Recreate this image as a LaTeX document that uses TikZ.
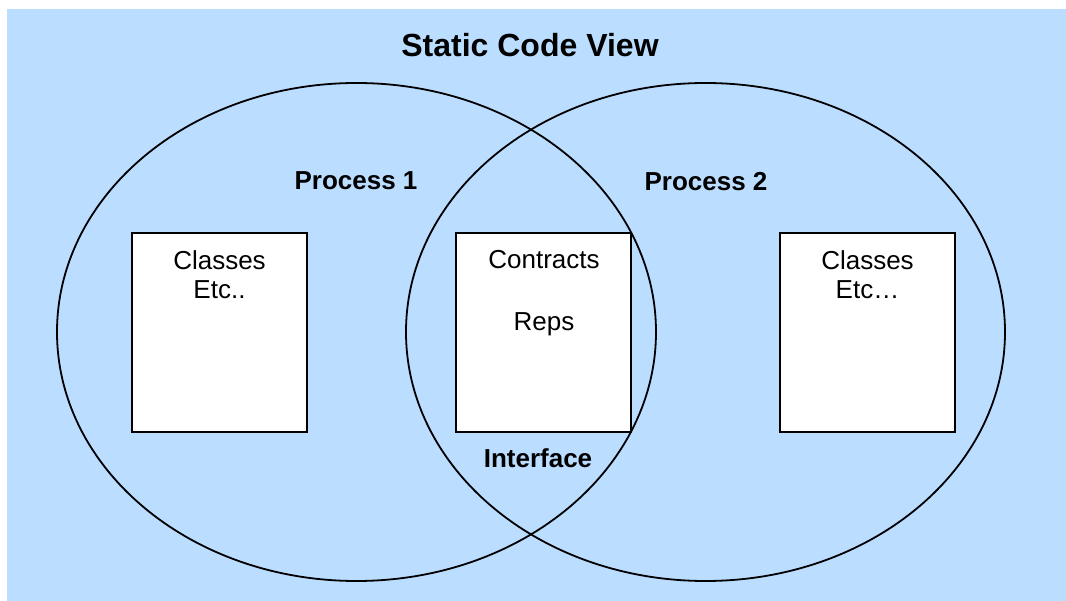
\documentclass[tikz,border=0pt]{standalone}
\usepackage{fontspec}
\setmainfont{Liberation Sans}
\definecolor{bgblue}{RGB}{187,221,255}
\begin{document}
\begin{tikzpicture}[x=1pt,y=-1pt,
  ring/.style={draw=black,line width=1.8pt},
  card/.style={draw=black,fill=white,line width=1.5pt},
  hd/.style={font=\bfseries\fontsize{26}{30}\selectfont,inner sep=0pt},
  tx/.style={font=\fontsize{26}{29}\selectfont,inner sep=0pt,align=center}]
\useasboundingbox (0,0) rectangle (1066,601);
\fill[bgblue] (7,9) rectangle (1066,601);
\node[hd,font=\bfseries\fontsize{32}{36}\selectfont] (title) at (530,45) {Static Code View};
\draw[ring] (356.5,332) ellipse [x radius=299.5, y radius=249];
\draw[ring] (705.5,332) ellipse [x radius=299.5, y radius=249];
\node[card,minimum width=175pt,minimum height=199pt,inner sep=0pt] (b1) at (219.5,332.5) {};
\node[card,minimum width=175pt,minimum height=199pt,inner sep=0pt] (b2) at (543.5,332.5) {};
\node[card,minimum width=175pt,minimum height=199pt,inner sep=0pt] (b3) at (867.5,332.5) {};
\node[hd] (p1) at (356,181) {Process 1};
\node[hd] (p2) at (706,182) {Process 2};
\node[hd] (if) at (538,458) {Interface};
\node[tx,anchor=north] (t1) at (219.5,250.5) {Classes\\Etc..};
\node[tx,anchor=north] (t2) at (544,250.5) {Contracts};
\node[tx,anchor=north] (t2b) at (544,312.5) {Reps};
\node[tx,anchor=north] (t3) at (867.5,250.5) {Classes\\Etc…};
\end{tikzpicture}
\end{document}
